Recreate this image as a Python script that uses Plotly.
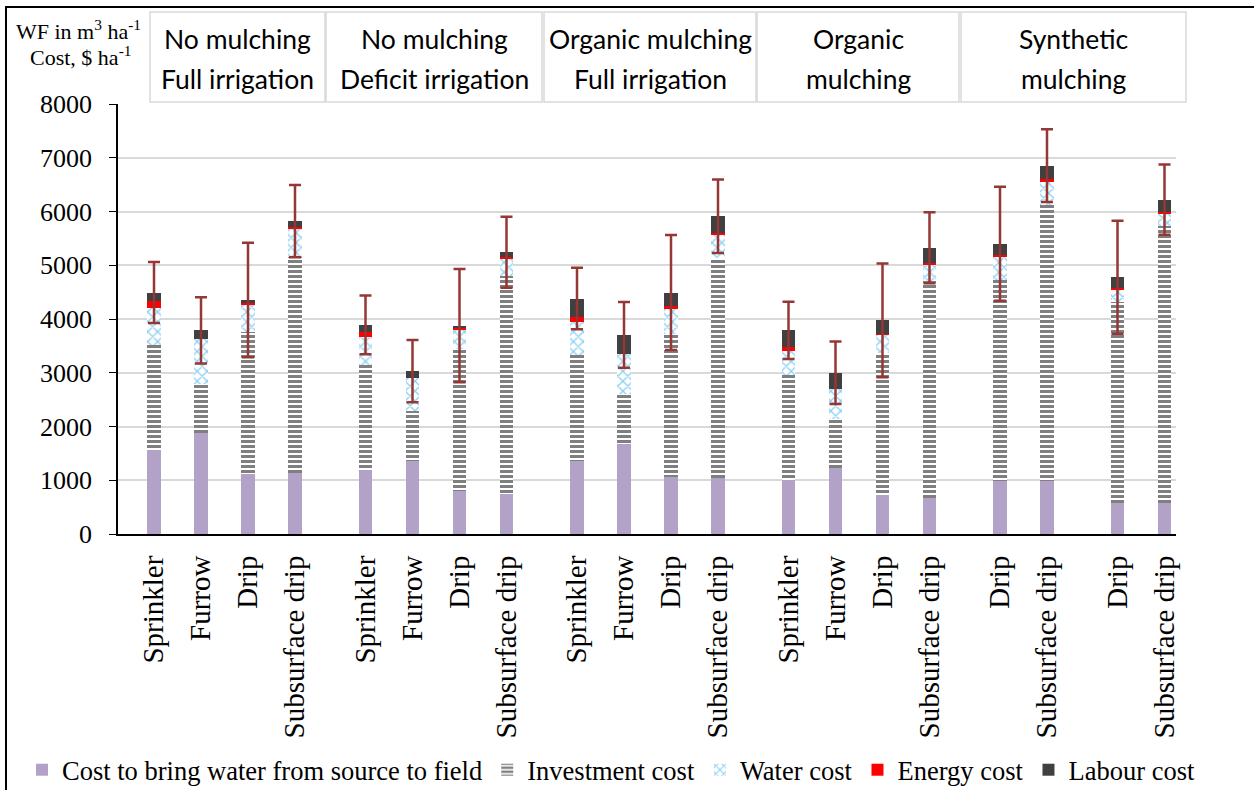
import plotly.graph_objects as go

# ---------------- data ----------------
group_line1 = ["No mulching", "No mulching", "Organic mulching", "Organic", "Synthetic"]
group_line2 = ["Full irrigation", "Deficit irrigation", "Full irrigation", "mulching", "mulching"]

group_methods = [
    ["Sprinkler", "Furrow", "Drip", "Subsurface drip"],
    ["Sprinkler", "Furrow", "Drip", "Subsurface drip"],
    ["Sprinkler", "Furrow", "Drip", "Subsurface drip"],
    ["Sprinkler", "Furrow", "Drip", "Subsurface drip"],
    ["Drip", "Subsurface drip"],
    ["Drip", "Subsurface drip"],
]

series_names = ["Cost to bring water from source to field", "Investment cost",
                "Water cost", "Energy cost", "Labour cost"]

bring_cost = [1570, 1876, 1122, 1135, 1197, 1363, 802, 741, 1363, 1678, 1067, 1048,
              1006, 1222, 728, 678, 981, 981, 574, 574]
investment_cost = [1950, 920, 2630, 4019, 1938, 926, 2642, 4061, 1963, 920, 2661, 4082,
                   1944, 926, 2642, 4031, 3747, 5149, 3746, 5154]
water_cost = [684, 834, 500, 513, 525, 605, 358, 320, 611, 746, 457, 437,
              450, 543, 334, 310, 431, 437, 223, 235]
energy_cost = [122, 0, 44, 48, 92, 0, 24, 26, 100, 0, 48, 37,
               74, 0, 10, 18, 26, 31, 31, 30]
labour_cost = [167, 159, 56, 105, 137, 136, 50, 93, 344, 360, 260, 309,
               315, 309, 260, 289, 215, 254, 204, 229]
error_wf = [567, 617, 1065, 673, 547, 580, 1055, 661, 571, 611, 1071, 683,
            533, 580, 1059, 661, 1062, 676, 1052, 654]

# ---------------- positions (categories with a half-slot gap between groups) -------------
xpos, xlab = [], []
idx = 0
for g, methods in enumerate(group_methods):
    for m in methods:
        xpos.append(idx + 0.5 * g)
        xlab.append(m)
        idx += 1

totals = [a + b + c + d + e for a, b, c, d, e in
          zip(bring_cost, investment_cost, water_cost, energy_cost, labour_cost)]

SERIF = "Liberation Serif"
SANS = "Lato"
BW = 0.28

fig = go.Figure()
fig.add_bar(x=xpos, y=bring_cost, name=series_names[0], width=BW,
            marker=dict(color="#B3A2C7", line=dict(width=0)))
fig.add_bar(x=xpos, y=investment_cost, name=series_names[1], width=BW,
            marker=dict(color="white", line=dict(width=0),
                        pattern=dict(shape="-", fgcolor="black", bgcolor="white",
                                     size=5, solidity=0.6)))
fig.add_bar(x=xpos, y=water_cost, name=series_names[2], width=BW,
            marker=dict(color="white", line=dict(width=0),
                        pattern=dict(shape="x", fgcolor="#1BA1E2", bgcolor="white",
                                     size=7, solidity=0.35)))
fig.add_bar(x=xpos, y=energy_cost, name=series_names[3], width=BW,
            marker=dict(color="#FF0000", line=dict(width=0)))
fig.add_bar(x=xpos, y=labour_cost, name=series_names[4], width=BW,
            marker=dict(color="#404040", line=dict(width=0)))
fig.add_scatter(x=xpos, y=totals, mode="markers", showlegend=False, hoverinfo="skip",
                marker=dict(size=1, opacity=0),
                error_y=dict(type="data", array=error_wf, color="#953735",
                             thickness=2.5, width=6))

# ---------------- layout ----------------
L, R, T, B = 118, 78, 104, 256
W, H = 1254, 790
pw, ph = W - L - R, H - T - B


def px(p):
    return (p - L) / pw


def py(q):
    return (H - B - q) / ph


shapes = []
annotations = []
# outer figure border
shapes.append(dict(type="rect", xref="paper", yref="paper",
                   x0=px(6), x1=px(1262), y0=py(800), y1=py(7),
                   line=dict(color="black", width=2), fillcolor="rgba(0,0,0,0)"))
# header boxes
box_edges = [(150, 325), (326, 542), (544, 756), (757, 959), (961, 1186)]
for (a, b), t1, t2 in zip(box_edges, group_line1, group_line2):
    shapes.append(dict(type="rect", xref="paper", yref="paper",
                       x0=px(a), x1=px(b), y0=py(102), y1=py(12),
                       line=dict(color="#D9D9D9", width=1.5), fillcolor="white"))
    cx = px((a + b) / 2)
    annotations.append(dict(xref="paper", yref="paper", x=cx, y=py(39), text=t1,
                            showarrow=False, xanchor="center", yanchor="middle",
                            font=dict(family=SANS, size=26.5, color="black")))
    annotations.append(dict(xref="paper", yref="paper", x=cx, y=py(79), text=t2,
                            showarrow=False, xanchor="center", yanchor="middle",
                            font=dict(family=SANS, size=26.5, color="black")))

# y-axis title (two lines)
annotations.append(dict(xref="paper", yref="paper", x=px(78), y=py(30),
                        text="WF in m<sup>3</sup> ha<sup>-1</sup>", showarrow=False,
                        xanchor="center", yanchor="middle",
                        font=dict(family=SERIF, size=22, color="black")))
annotations.append(dict(xref="paper", yref="paper", x=px(80), y=py(56),
                        text="Cost, $ ha<sup>-1</sup>", showarrow=False,
                        xanchor="center", yanchor="middle",
                        font=dict(family=SERIF, size=22, color="black")))

fig.update_layout(
    width=W, height=H,
    margin=dict(l=L, r=R, t=T, b=B, pad=0, autoexpand=False),
    paper_bgcolor="white", plot_bgcolor="white",
    barmode="stack",
    showlegend=True,
    legend=dict(orientation="h", x=px(22), y=py(770), xanchor="left", yanchor="middle",
                font=dict(family=SERIF, size=26.5, color="black"),
                bgcolor="rgba(0,0,0,0)", traceorder="normal", itemwidth=30),
    shapes=shapes,
    annotations=annotations,
    xaxis=dict(range=[(118 - 154) / 47.0, (1176 - 154) / 47.0], automargin=False,
               tickmode="array", tickvals=xpos, ticktext=xlab, tickangle=-90,
               showgrid=False, zeroline=False, showline=True, linecolor="black",
               linewidth=2, ticks="", ticklabelstandoff=8,
               tickfont=dict(family=SERIF, size=29, color="black")),
    yaxis=dict(range=[0, 8000], dtick=1000, tick0=0, showgrid=True, automargin=False,
               gridcolor="#D9D9D9", gridwidth=1.5, zeroline=False, showline=True,
               linecolor="black", linewidth=1.5, ticks="outside", ticklen=7,
               tickcolor="black", ticklabelstandoff=12,
               tickfont=dict(family=SERIF, size=26, color="black")),
)

fig.write_html("out.html", config={"displayModeBar": False},
               post_script="document.body.style.margin='0px';"
                           "document.documentElement.style.overflow='hidden';")
